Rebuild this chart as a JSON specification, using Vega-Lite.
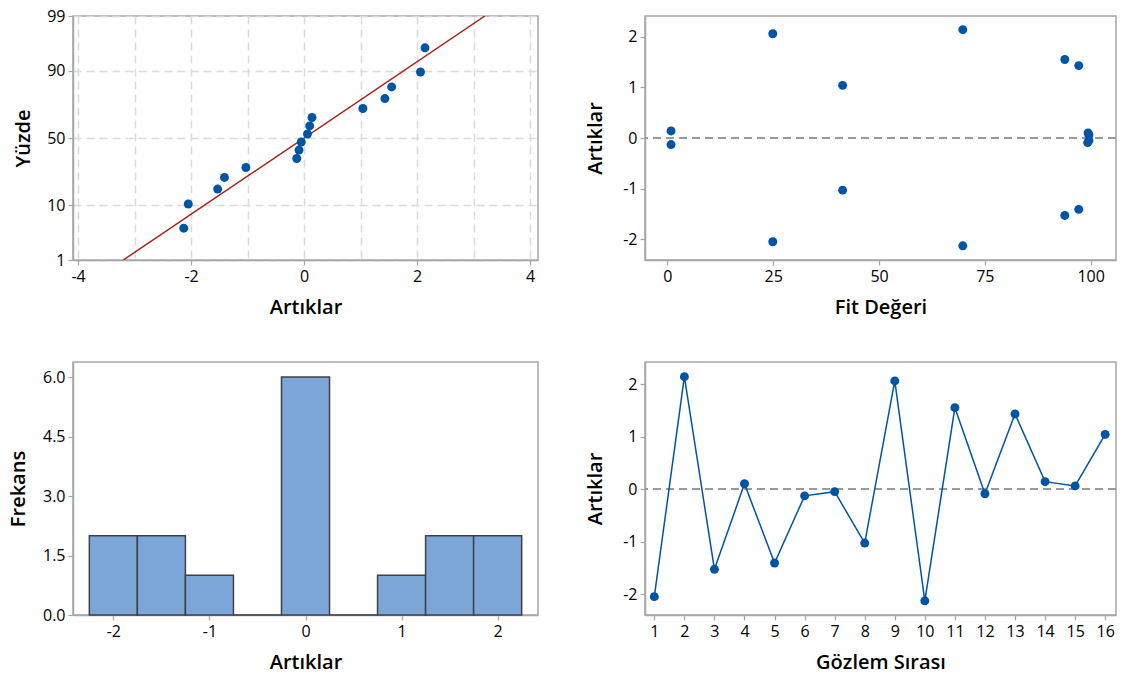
{
  "$schema": "https://vega.github.io/schema/vega-lite/v6.json",
  "padding": {"left": 7, "top": 7, "right": 0, "bottom": 0},
  "background": "white",
  "datasets": {
    "resid": [
      {"obs": 1, "res": -2.05, "fit": 24.9, "score": -1.259},
      {"obs": 2, "res": 2.14, "fit": 69.8, "score": 1.720},
      {"obs": 3, "res": -1.53, "fit": 93.9, "score": -0.974},
      {"obs": 4, "res": 0.10, "fit": 99.4, "score": 0.230},
      {"obs": 5, "res": -1.41, "fit": 97.2, "score": -0.752},
      {"obs": 6, "res": -0.13, "fit": 0.85, "score": -0.391},
      {"obs": 7, "res": -0.05, "fit": 99.6, "score": -0.076},
      {"obs": 8, "res": -1.03, "fit": 41.4, "score": -0.562},
      {"obs": 9, "res": 2.06, "fit": 24.9, "score": 1.259},
      {"obs": 10, "res": -2.13, "fit": 69.8, "score": -1.720},
      {"obs": 11, "res": 1.55, "fit": 93.9, "score": 0.974},
      {"obs": 12, "res": -0.09, "fit": 99.3, "score": -0.230},
      {"obs": 13, "res": 1.43, "fit": 97.2, "score": 0.752},
      {"obs": 14, "res": 0.14, "fit": 0.85, "score": 0.391},
      {"obs": 15, "res": 0.06, "fit": 99.6, "score": 0.076},
      {"obs": 16, "res": 1.04, "fit": 41.4, "score": 0.562}
    ],
    "fitline": [
      {"res": -3.2, "score": -2.3263},
      {"res": 3.2, "score": 2.3263}
    ],
    "hist": [
      {"b0": -2.25, "b1": -1.75, "n": 2},
      {"b0": -1.75, "b1": -1.25, "n": 2},
      {"b0": -1.25, "b1": -0.75, "n": 1},
      {"b0": -0.75, "b1": -0.25, "n": 0},
      {"b0": -0.25, "b1": 0.25, "n": 6},
      {"b0": 0.25, "b1": 0.75, "n": 0},
      {"b0": 0.75, "b1": 1.25, "n": 1},
      {"b0": 1.25, "b1": 1.75, "n": 2},
      {"b0": 1.75, "b1": 2.25, "n": 2}
    ]
  },
  "columns": 2,
  "bounds": "flush",
  "spacing": {"row": 102, "column": 107},
  "concat": [
    {
      "width": 465,
      "height": 244,
      "encoding": {
        "x": {
          "field": "res", "type": "quantitative",
          "scale": {"domain": [-4.09, 4.14], "nice": false, "zero": false},
          "axis": {
            "title": "Artıklar", "titlePadding": 13,
            "values": [-4, -3, -2, -1, 0, 1, 2, 3, 4],
            "labelExpr": "datum.value % 2 == 0 ? replace(format(datum.value, 'd'), '−', '-') : ''",
            "tickOpacity": {"condition": {"test": "datum.value % 2 != 0", "value": 0}, "value": 1},
            "grid": true, "gridColor": "#DADADA", "gridDash": [8, 5], "gridWidth": 1.5
          }
        },
        "y": {
          "field": "score", "type": "quantitative",
          "scale": {"domain": [-2.3263, 2.3263], "nice": false, "zero": false},
          "axis": {
            "title": "Yüzde", "titlePadding": 13,
            "values": [-2.3263, -1.2816, 0, 1.2816, 2.3263],
            "labelExpr": "datum.value < -2 ? '1' : datum.value < -1 ? '10' : datum.value < 1 ? '50' : datum.value < 2 ? '90' : '99'",
            "grid": true, "gridColor": "#DADADA", "gridDash": [8, 5], "gridWidth": 1.5
          }
        }
      },
      "layer": [
        {
          "data": {"name": "fitline"},
          "mark": {"type": "line", "color": "#A8201A", "strokeWidth": 1.5, "clip": true}
        },
        {
          "data": {"name": "resid"},
          "mark": {"type": "point", "filled": true, "size": 80, "color": "#0054A6", "opacity": 1}
        }
      ]
    },
    {
      "width": 471,
      "height": 244,
      "data": {"name": "resid"},
      "layer": [
        {
          "mark": {"type": "rule", "color": "#9B9B9B", "strokeWidth": 1.5, "strokeDash": [8, 5]},
          "encoding": {"y": {"datum": 0}}
        },
        {
          "mark": {"type": "point", "filled": true, "size": 80, "color": "#0054A6", "opacity": 1},
          "encoding": {
            "x": {
              "field": "fit", "type": "quantitative",
              "scale": {"domain": [-5.3, 106], "nice": false, "zero": false},
              "axis": {"title": "Fit Değeri", "titlePadding": 13, "values": [0, 25, 50, 75, 100], "format": "d"}
            },
            "y": {
              "field": "res", "type": "quantitative",
              "scale": {"domain": [-2.41, 2.41], "nice": false, "zero": false},
              "axis": {"title": "Artıklar", "titlePadding": 17, "values": [-2, -1, 0, 1, 2], "labelExpr": "replace(format(datum.value, 'd'), '−', '-')"}
            }
          }
        }
      ]
    },
    {
      "width": 465,
      "height": 253,
      "data": {"name": "hist"},
      "mark": {"type": "rect", "color": "#7DA6D8", "stroke": "#404040", "strokeWidth": 1.5, "opacity": 1},
      "encoding": {
        "x": {
          "field": "b0", "type": "quantitative",
          "scale": {"domain": [-2.42, 2.42], "nice": false, "zero": false},
          "axis": {"title": "Artıklar", "titlePadding": 13, "values": [-2, -1, 0, 1, 2], "labelExpr": "replace(format(datum.value, 'd'), '−', '-')"}
        },
        "x2": {"field": "b1"},
        "y": {
          "field": "n", "type": "quantitative",
          "scale": {"domain": [0, 6.38], "nice": false},
          "axis": {"title": "Frekans", "titlePadding": 14, "values": [0, 1.5, 3, 4.5, 6], "format": ".1f"}
        },
        "y2": {"datum": 0}
      }
    },
    {
      "width": 471,
      "height": 253,
      "data": {"name": "resid"},
      "encoding": {
        "x": {
          "field": "obs", "type": "quantitative",
          "scale": {"domain": [0.69, 16.36], "nice": false, "zero": false},
          "axis": {"title": "Gözlem Sırası", "titlePadding": 13, "values": [1, 2, 3, 4, 5, 6, 7, 8, 9, 10, 11, 12, 13, 14, 15, 16], "format": "d"}
        },
        "y": {
          "field": "res", "type": "quantitative",
          "scale": {"domain": [-2.4, 2.42], "nice": false, "zero": false},
          "axis": {"title": "Artıklar", "titlePadding": 17, "values": [-2, -1, 0, 1, 2], "labelExpr": "replace(format(datum.value, 'd'), '−', '-')"}
        }
      },
      "layer": [
        {
          "mark": {"type": "rule", "color": "#9B9B9B", "strokeWidth": 1.5, "strokeDash": [8, 5]},
          "encoding": {"y": {"datum": 0}, "x": null}
        },
        {
          "mark": {"type": "line", "color": "#0054A6", "strokeWidth": 1.5}
        },
        {
          "mark": {"type": "point", "filled": true, "size": 80, "color": "#0054A6", "opacity": 1}
        }
      ]
    }
  ],
  "config": {
    "font": "Open Sans",
    "view": {"stroke": "#A6A6A6", "strokeWidth": 1.5},
    "axis": {
      "domainColor": "#A6A6A6", "domainWidth": 1.5,
      "tickColor": "#A6A6A6", "tickSize": 5, "tickWidth": 1.2,
      "labelFontSize": 16, "labelColor": "#000000", "labelPadding": 3,
      "labelFlush": false, "labelOverlap": false,
      "titleFontSize": 20, "titleFontWeight": 600, "titleColor": "#000000",
      "grid": false
    }
  }
}
